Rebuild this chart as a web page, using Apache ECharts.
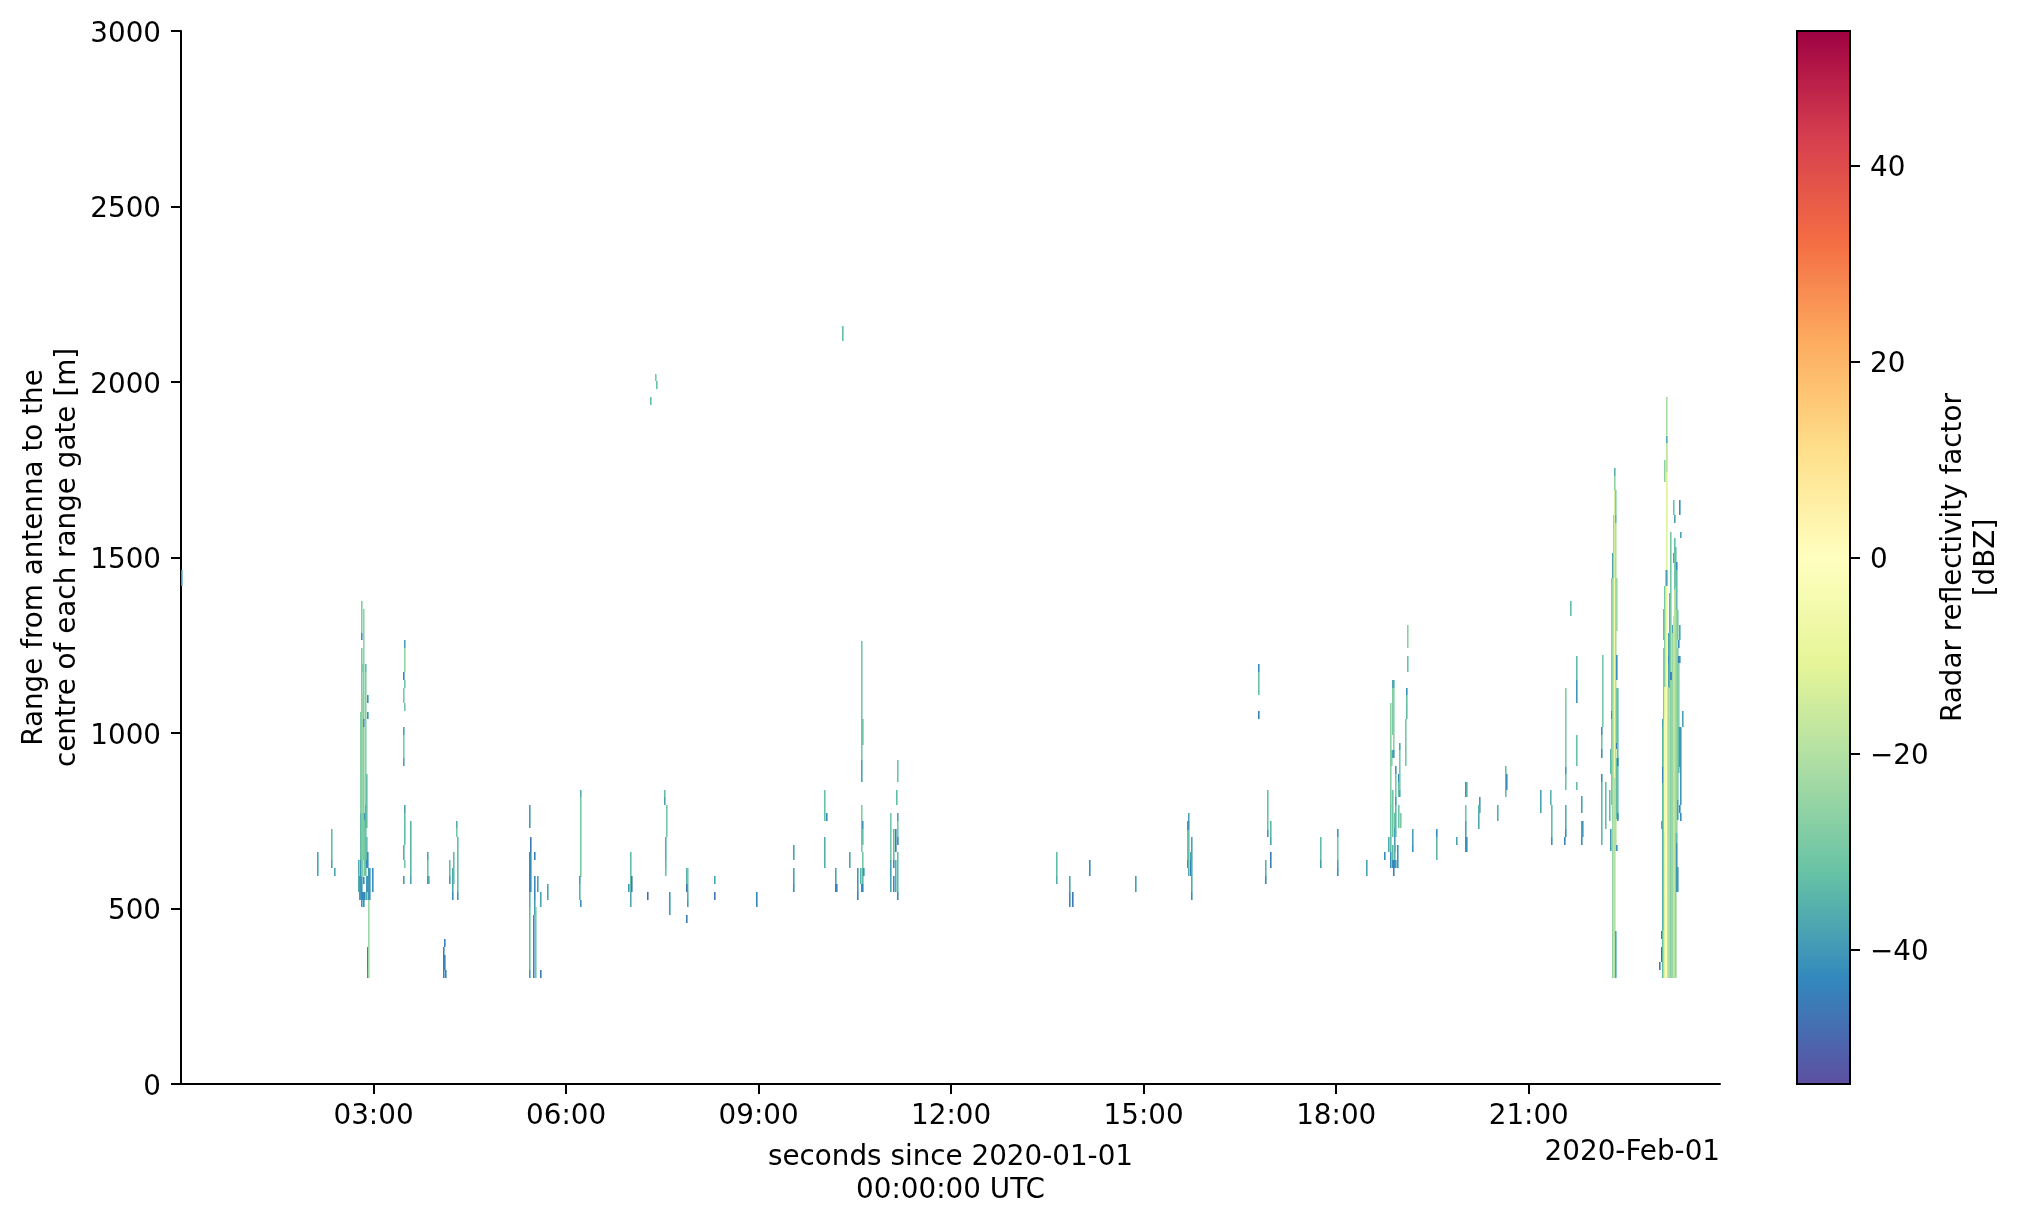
<!DOCTYPE html>
<html>
<head>
<meta charset="utf-8">
<title>Radar reflectivity</title>
<script src="https://cdn.jsdelivr.net/npm/echarts@6/dist/echarts.min.js"></script>
<style>html,body{margin:0;padding:0;background:#fff}#c{width:2019px;height:1223px}</style>
</head>
<body>
<div id="c"></div>
<script>
// Every gate run: [hour of day, lower range m, upper range m, reflectivity dBZ]
const gatesMidnight = [[0.015,1419,1464,-40]];
const gates0200 = [
[2.133,593,661,-38],[2.351,638,727,-33],[2.351,616,638,-38],[2.398,593,616,-38],
[2.772,547,638,-36],[2.787,524,593,-39],
[2.803,771,1061,-27],[2.803,638,771,-33],[2.803,524,638,-40],
[2.818,1284,1376,-28],[2.818,1265,1284,-42],[2.818,1113,1242,-29],[2.818,771,1113,-27],[2.818,591,771,-30],[2.818,505,591,-41],
[2.834,1174,1197,-28],[2.834,771,1113,-24],[2.834,591,771,-28],[2.834,524,547,-44],
[2.850,1197,1352,-25],[2.850,1037,1197,-28],[2.850,1018,1041,-42],[2.850,771,1018,-28],[2.850,638,771,-29],[2.850,570,591,-42],[2.850,505,547,-42],
[2.865,752,771,-40],[2.865,593,752,-30],[2.865,524,547,-43],
[2.881,1174,1197,-33],[2.881,795,1174,-27],[2.881,728,795,-35],[2.881,593,728,-32],
[2.896,728,883,-33],[2.896,638,705,-34],[2.896,616,638,-42],[2.896,547,593,-40],[2.896,524,547,-36],
[2.912,1085,1108,-42],[2.912,1041,1061,-42],[2.912,616,661,-42],[2.912,547,593,-40],[2.912,325,391,-44],[2.912,302,325,-42],
[2.928,524,616,-40],[2.928,302,524,-24],[2.943,524,616,-41],[2.990,547,616,-42]
];
const gates0330 = [
[3.489,1242,1265,-38],[3.489,1174,1242,-25],[3.473,1151,1174,-43],[3.481,1128,1151,-30],[3.473,1085,1128,-29],[3.489,1063,1085,-30],
[3.473,994,1017,-38],[3.473,928,994,-29],[3.473,906,928,-38],
[3.489,771,795,-38],[3.489,681,771,-33],[3.473,638,681,-36],[3.489,616,638,-30],[3.468,570,593,-39],
[3.582,593,749,-34],[3.582,570,593,-38],
[3.847,638,661,-38],[3.847,593,638,-32],[3.847,570,593,-38],[3.863,570,593,-38],
[4.112,391,413,-45],[4.096,303,391,-44],[4.112,325,368,-44],[4.128,303,325,-43],
[4.190,593,638,-33],[4.190,570,593,-39],
[4.242,547,616,-37],[4.242,524,547,-42],[4.252,570,661,-33],
[4.299,728,749,-36],[4.299,705,728,-30],[4.315,638,705,-33],[4.315,547,638,-33],[4.315,524,547,-40]
];
const gates0530 = [
[5.437,728,795,-39],[5.452,661,705,-46],[5.437,547,661,-42],[5.445,547,661,-42],[5.437,505,547,-36],[5.437,325,505,-33],[5.442,303,325,-40],
[5.515,638,661,-44],[5.515,524,593,-42],[5.515,482,524,-38],[5.499,303,482,-44],[5.530,303,505,-30],
[5.567,547,593,-38],[5.613,505,547,-38],[5.613,303,325,-45],[5.717,524,570,-38],
[6.226,819,838,-36],[6.226,591,819,-29],[6.216,570,593,-40],[6.216,524,570,-35],[6.226,505,524,-42],
[6.980,547,570,-40],[7.011,547,661,-33],[7.011,505,547,-37],[7.026,547,593,-46],[7.276,524,547,-48],
[7.535,819,838,-33],[7.535,795,819,-38],[7.572,705,795,-30],[7.556,638,705,-36],[7.560,616,638,-34],[7.556,593,616,-32],
[7.613,482,547,-40],[7.884,547,616,-35],[7.892,547,616,-30],[7.884,547,570,-46],[7.884,458,482,-46],[7.899,524,547,-36],[7.899,505,524,-39]
];
const gatesHigh = [
[7.320,1934,1957,-33],[7.400,2003,2023,-30],[7.408,1980,2003,-32],[10.315,2117,2160,-33]
];
const gates0800 = [
[8.319,570,593,-38],[8.319,524,547,-46],[8.974,505,547,-43],
[9.550,638,681,-38],[9.550,570,615,-38],[9.550,547,570,-42],
[10.033,749,838,-32],[10.033,615,704,-36],[10.064,749,772,-42],
[10.205,570,615,-38],[10.197,547,570,-44],[10.212,547,570,-44],
[10.423,615,661,-38],[10.553,547,615,-40],[10.553,524,547,-45],
[10.610,1045,1262,-30],[10.630,965,1040,-33],[10.610,923,1045,-30],[10.610,860,923,-38],
[10.610,749,795,-28],[10.610,661,749,-30],[10.620,615,661,-30],[10.600,570,615,-35],[10.618,570,615,-34],[10.610,547,570,-42],[10.622,547,570,-43],
[10.626,727,749,-40],[10.626,681,727,-33],[10.641,593,615,-42],
[11.052,638,772,-30],[11.052,547,638,-38],
[11.114,638,726,-33],[11.114,615,638,-42],[11.114,547,593,-42],
[11.145,704,726,-44],[11.145,661,704,-46],[11.145,547,638,-36],[11.155,795,838,-33],
[11.171,860,923,-31],[11.171,749,772,-38],[11.171,681,749,-30],[11.171,681,704,-40],[11.171,547,661,-33],[11.171,524,547,-42]
];
const gates1330 = [
[13.649,592,661,-33],[13.649,570,592,-36],[13.851,547,592,-38],[13.851,505,547,-43],[13.898,505,547,-46],
[14.163,592,638,-42],[14.880,547,592,-39],
[15.690,725,749,-40],[15.690,638,725,-31],[15.690,615,638,-42],
[15.706,749,772,-38],[15.706,725,749,-40],[15.706,615,725,-33],[15.706,592,615,-36],
[15.737,638,661,-37],[15.737,592,638,-44],
[15.753,638,704,-38],[15.753,548,638,-36],[15.753,524,548,-42],
[16.796,1175,1197,-42],[16.796,1108,1175,-32],[16.796,1040,1063,-44],
[16.937,725,838,-32],[16.937,704,725,-40],
[16.984,704,749,-34],[16.984,681,704,-38],[16.984,615,661,-45],
[16.906,592,638,-35],[16.906,570,592,-42]
];
const gates1745 = [
[17.763,638,704,-33],[17.763,615,638,-39],
[18.028,704,727,-40],[18.028,638,704,-30],[18.028,615,638,-38],[18.028,593,615,-42],
[18.480,593,638,-38],[18.760,638,661,-42],[18.822,661,704,-37],
[18.843,705,795,-31],[18.843,661,705,-33],[18.843,615,661,-42],
[18.853,994,1085,-26],[18.853,838,994,-27],[18.853,790,838,-29],
[18.864,906,952,-28],
[18.874,1128,1151,-37],[18.874,1085,1128,-28],[18.874,994,1085,-29],[18.874,928,952,-37],[18.874,705,838,-31],[18.874,638,681,-34],[18.874,615,638,-42],
[18.890,1128,1151,-37],[18.890,994,1128,-27],[18.890,952,994,-26],[18.890,928,952,-40],[18.890,593,638,-44],
[18.911,728,771,-32],[18.911,661,728,-38],[18.911,638,681,-35],[18.911,615,638,-42],
[18.927,883,906,-40],[18.927,819,883,-30],[18.927,795,819,-40],[18.927,705,795,-34],[18.927,615,638,-40],
[18.963,615,681,-41],
[18.978,859,883,-42],[18.978,819,859,-33],[18.978,728,795,-31],
[18.994,952,971,-38],[18.994,838,952,-30],[18.994,819,838,-38],[19.010,728,771,-29],
[19.103,1108,1128,-42],[19.103,1085,1108,-32],[19.103,1041,1085,-33],[19.088,906,1041,-30],
[19.119,1243,1308,-27],[19.119,1175,1219,-32],
[19.197,681,727,-38],[19.197,661,681,-42],[19.571,704,727,-42],[19.571,638,704,-34],[19.882,681,704,-38],
[20.017,819,860,-40],[20.017,749,795,-30],[20.017,704,749,-38],[20.017,661,704,-41],[20.033,819,860,-36],[20.033,661,704,-42],
[20.236,771,819,-40],[20.225,771,795,-34],[20.225,727,771,-37],[20.521,749,795,-36],
[20.646,880,906,-32],[20.646,838,880,-33],[20.646,819,838,-33],[20.656,838,883,-42],
[21.192,771,838,-38],[21.347,795,838,-35],[21.358,704,795,-33],[21.358,681,704,-41],
[21.581,1085,1128,-28],[21.570,904,1085,-29],[21.570,883,904,-40],[21.585,838,883,-31],[21.581,727,795,-36],[21.575,704,727,-42],[21.566,681,704,-44],
[21.659,1332,1376,-33],[21.752,1151,1219,-33],[21.752,1086,1151,-40],[21.752,906,994,-32],[21.752,838,860,-33],
[21.830,773,820,-38],[21.830,703,750,-37],[21.840,703,750,-40],[21.830,680,703,-42]
];
const gates2200 = [
[22.157,1017,1221,-30],[22.142,994,1017,-42],[22.142,953,994,-31],[22.142,930,953,-41],[22.142,860,884,-42],[22.142,680,860,-34],
[22.204,727,860,-33],[22.266,750,837,-33],
[22.282,884,953,-34],[22.282,663,727,-40],
[22.298,919,1442,-28],[22.298,1041,1064,-42],[22.298,796,919,-30],
[22.313,1442,1512,-38],[22.313,680,1442,-24],[22.313,302,680,-25],
[22.329,1442,1622,-24],[22.329,302,1442,-18],
[22.344,1733,1756,-35],[22.344,1692,1733,-26],[22.344,1442,1692,-14],[22.344,872,1442,-7],[22.344,302,872,-20],
[22.360,1622,1692,-28],[22.360,1599,1622,-34],[22.360,1442,1599,-20],[22.360,1221,1442,-22],[22.360,663,1221,-20],[22.360,302,436,-38],
[22.376,1291,1442,-24],[22.376,1151,1221,-42],[22.376,971,1128,-30],[22.376,953,971,-44],[22.376,756,930,-33],[22.376,663,680,-42],
[22.391,756,1128,-33],[22.391,907,930,-44],[22.391,750,773,-42]
];
const gates2300 = [
[23.045,325,349,-46],[23.066,727,749,-36],[23.066,412,436,-47],[23.066,349,391,-48],
[23.081,1018,1040,-38],[23.081,904,1018,-34],[23.081,857,904,-44],[23.081,749,857,-33],[23.081,439,749,-36],[23.081,303,439,-33],
[23.097,1265,1353,-33],[23.097,1040,1241,-29],[23.097,439,1040,-28],
[23.113,1353,1419,-30],[23.113,1132,1353,-28],[23.113,1040,1132,-12],[23.113,714,1040,-5],[23.113,303,714,-12],
[23.128,1419,1465,-24],[23.128,1132,1419,-16],[23.128,714,1132,3],[23.128,303,714,-2],
[23.124,1715,1779,-26],
[23.144,1849,1958,-22],[23.144,1465,1849,-12],[23.144,1132,1465,-8],[23.144,714,1132,-3],[23.144,303,714,-1],
[23.155,1826,1847,-36],[23.155,1744,1826,-18],[23.155,1419,1465,-38],[23.159,303,1132,-16],
[23.175,1218,1284,-38],[23.175,1199,1218,-42],[23.175,1132,1199,-38],[23.175,303,1132,-24],
[23.190,303,1127,-22],[23.201,1127,1398,-34],[23.201,303,1127,-20],
[23.216,1175,1574,-30],[23.216,1151,1175,-44],[23.216,303,1151,-27],
[23.232,1151,1175,-42],[23.232,303,1151,-24],
[23.248,1284,1308,-38],[23.248,303,1284,-24],
[23.263,1621,1664,-31],[23.263,1484,1512,-38],[23.263,303,1332,-18],
[23.279,1597,1621,-38],[23.279,1512,1555,-33],[23.279,1408,1512,-30],[23.279,303,1408,-18],
[23.294,1488,1531,-33],[23.294,1417,1488,-31],[23.294,714,1417,-22],[23.294,303,714,-26],
[23.310,1465,1488,-42],[23.310,1351,1465,-33],[23.310,714,1351,-25],[23.310,686,714,-33],[23.310,548,686,-40],
[23.326,1265,1351,-30],[23.326,809,1241,-28],[23.326,752,809,-38],[23.326,548,619,-40],
[23.341,1241,1265,-42],[23.341,1199,1218,-44],[23.341,1018,1199,-28],[23.341,885,1018,-33],
[23.357,1621,1664,-42],[23.357,1265,1308,-38],[23.357,1199,1218,-42],[23.357,904,1018,-40],[23.357,771,795,-44],
[23.372,1555,1574,-38],[23.372,795,1018,-40],[23.372,749,771,-42],
[23.393,1018,1063,-38]
];
const allGates = [].concat(gatesMidnight, gates0200, gates0330, gates0530, gatesHigh, gates0800, gates1330, gates1745, gates2200, gates2300);

const rangeTicks = [0, 500, 1000, 1500, 2000, 2500, 3000];
const hourTicks = [3, 6, 9, 12, 15, 18, 21];
const dbzTicks = [-40, -20, 0, 20, 40];
const dbzSpan = [-53.7, 53.7];
const spectralR = ['#5e4fa2','#3288bd','#66c2a5','#abdda4','#e6f598','#ffffbf','#fee08b','#fdae61','#f46d43','#d53e4f','#9e0142'];

const FONT = '"DejaVu Sans"';
const FS = 27.8;
const ink = '#000';
const labelStyle = {color: ink, fontFamily: FONT, fontSize: FS};
const yLabelStyle = {...labelStyle, verticalAlign: 'top', lineHeight: 7};
const nameStyle = {color: ink, fontFamily: FONT, fontSize: FS, lineHeight: 33};
const pad = n => String(n).padStart(2, '0');

const chart = echarts.init(document.getElementById('c'), null, {renderer: 'canvas'});
chart.setOption({
  animation: false,
  backgroundColor: '#fff',
  title: {
    text: '2020-Feb-01', right: 299, top: 1139, padding: 0,
    textStyle: {color: ink, fontFamily: FONT, fontSize: FS, fontWeight: 'normal'}
  },
  grid: [
    {left: 181, top: 31, width: 1539, height: 1053, outerBoundsMode: 'none'},
    {left: 1797, top: 31, width: 53, height: 1053, outerBoundsMode: 'none'}
  ],
  xAxis: [
    {
      type: 'value', gridIndex: 0, min: 0, max: 23.98,
      name: 'seconds since 2020-01-01\n00:00:00 UTC', nameLocation: 'middle', nameGap: 57, nameMoveOverlap: false,
      nameTextStyle: nameStyle,
      splitLine: {show: false},
      axisLine: {show: true, onZero: false, lineStyle: {color: ink, width: 2}},
      axisTick: {show: true, length: 10, lineStyle: {color: ink, width: 2}, customValues: hourTicks},
      axisLabel: {show: true, margin: 19, customValues: hourTicks, formatter: v => pad(v) + ':00', ...labelStyle, hideOverlap: false}
    },
    {type: 'value', gridIndex: 1, min: 0, max: 1, show: false}
  ],
  yAxis: [
    {
      type: 'value', gridIndex: 0, min: 0, max: 3000, interval: 500,
      name: 'Range from antenna to the\ncentre of each range gate [m]', nameLocation: 'middle', nameGap: 97, nameMoveOverlap: false,
      nameTextStyle: nameStyle,
      splitLine: {show: false},
      axisLine: {show: true, onZero: false, lineStyle: {color: ink, width: 2}},
      axisTick: {show: true, length: 10, lineStyle: {color: ink, width: 2}, customValues: rangeTicks},
      axisLabel: {show: true, margin: 20, customValues: rangeTicks, formatter: v => String(v), ...yLabelStyle}
    },
    {
      type: 'value', gridIndex: 1, position: 'right', min: dbzSpan[0], max: dbzSpan[1],
      name: 'Radar reflectivity factor\n[dBZ]', nameLocation: 'middle', nameGap: 87, nameRotate: 90, nameMoveOverlap: false,
      nameTextStyle: nameStyle,
      splitLine: {show: false},
      axisLine: {show: true, onZero: false, lineStyle: {color: ink, width: 2}},
      axisTick: {show: true, length: 10, lineStyle: {color: ink, width: 2}, customValues: dbzTicks},
      axisLabel: {show: true, margin: 20, customValues: dbzTicks, formatter: v => String(v).replace('-', '\u2212'), ...yLabelStyle}
    }
  ],
  visualMap: {
    show: false, type: 'continuous', seriesIndex: 0, dimension: 3,
    min: dbzSpan[0], max: dbzSpan[1], inRange: {color: spectralR}
  },
  series: [
    {
      type: 'custom', xAxisIndex: 0, yAxisIndex: 0, z: 5, clip: false, silent: true,
      data: allGates,
      encode: {x: 0, y: [1, 2]},
      renderItem: (params, api) => {
        const lo = api.coord([api.value(0), api.value(1)]);
        const hi = api.coord([api.value(0), api.value(2)]);
        const w = 1.6;
        return {
          type: 'rect',
          shape: {x: Math.round(lo[0] - w / 2), y: Math.round(hi[1]), width: w, height: Math.round(lo[1]) - Math.round(hi[1])},
          style: {fill: api.visual('color')}
        };
      }
    },
    {
      type: 'custom', xAxisIndex: 1, yAxisIndex: 1, z: 5, clip: false, silent: true,
      data: [[0, dbzSpan[0], 1, dbzSpan[1]]],
      encode: {x: [0, 2], y: [1, 3]},
      renderItem: (params, api) => {
        const a = api.coord([api.value(0), api.value(1)]);
        const b = api.coord([api.value(2), api.value(3)]);
        return {
          type: 'rect',
          shape: {x: a[0], y: b[1], width: b[0] - a[0], height: a[1] - b[1]},
          style: {
            fill: {
              type: 'linear', x: 0, y: 1, x2: 0, y2: 0,
              colorStops: spectralR.map((c, i) => ({offset: i / (spectralR.length - 1), color: c}))
            },
            stroke: ink, lineWidth: 2
          }
        };
      }
    }
  ]
});
</script>
</body>
</html>
